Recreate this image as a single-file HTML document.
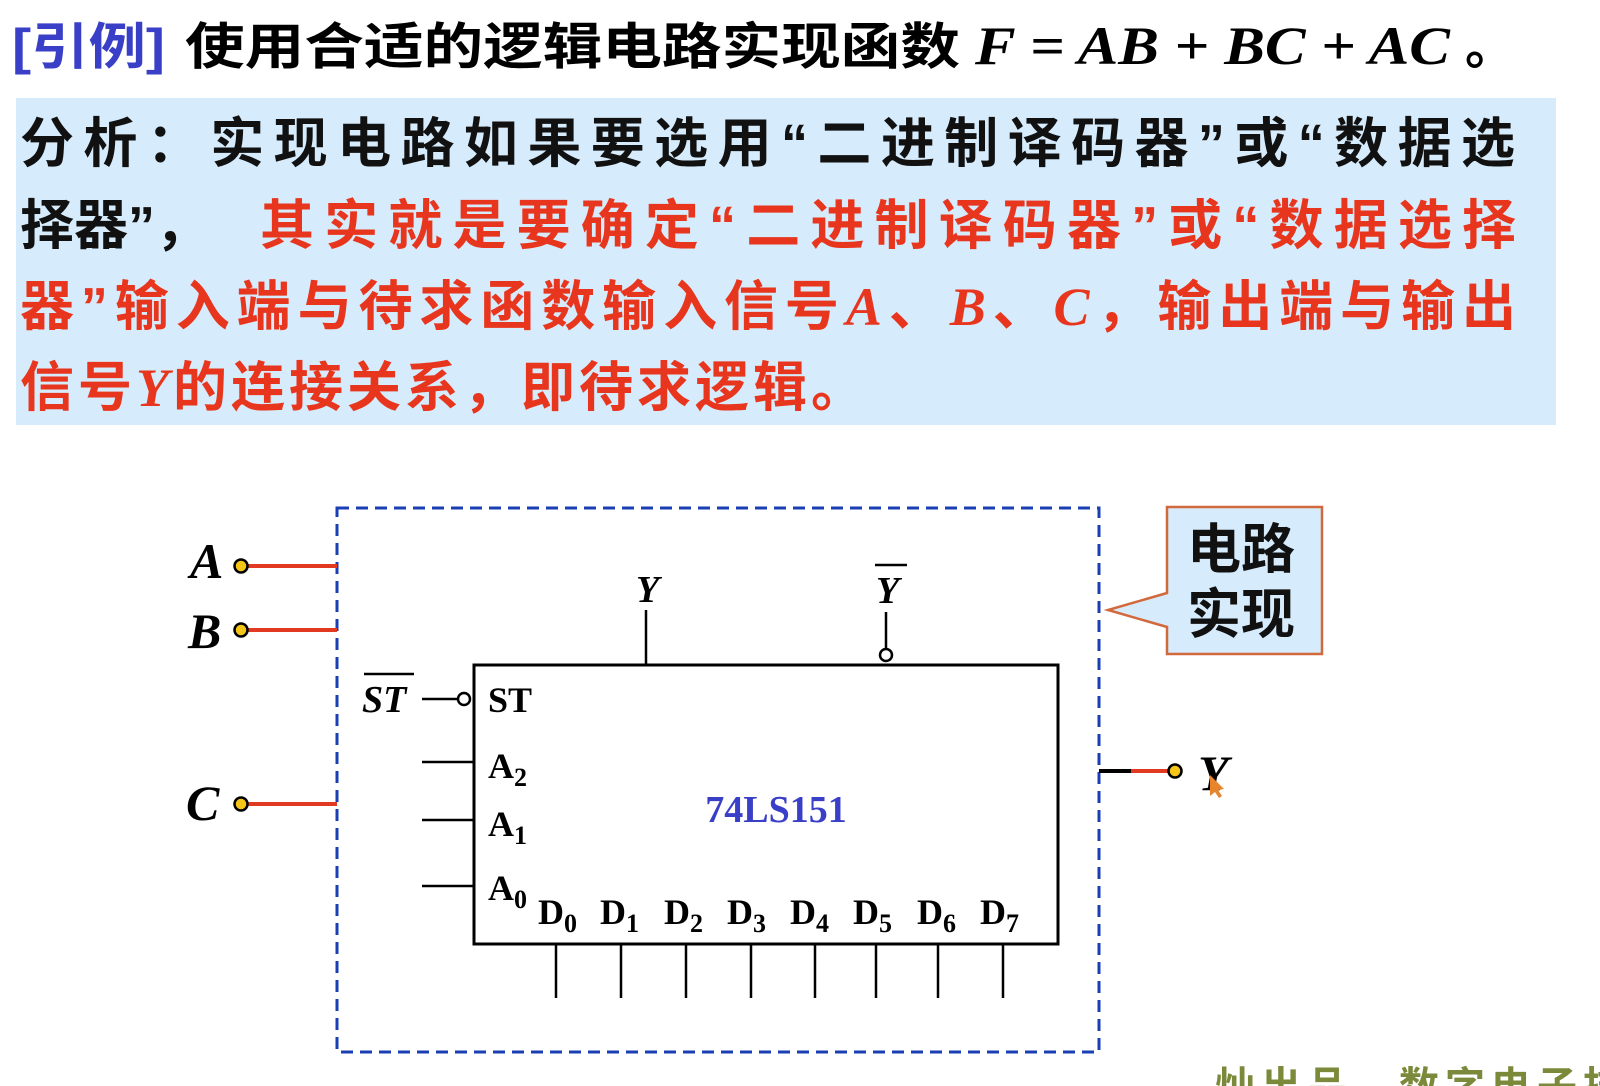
<!DOCTYPE html>
<html><head><meta charset="utf-8"><style>
html,body{margin:0;padding:0;background:#fff;width:1600px;height:1086px;overflow:hidden}
svg{display:block}
.cj{font-family:"Liberation Sans","Noto Sans CJK SC",sans-serif;font-weight:bold}
.sr{font-family:"Liberation Serif","Noto Serif CJK SC",serif;font-weight:bold}
</style></head><body>
<svg width="1600" height="1086" viewBox="0 0 1600 1086" xmlns="http://www.w3.org/2000/svg">
<text x="12" y="64" class="cj" font-size="50" fill="#3a3fc8" textLength="153" lengthAdjust="spacingAndGlyphs">[引例]</text>
<text x="185" y="64" class="cj" font-size="50" fill="#000" textLength="775" lengthAdjust="spacingAndGlyphs">使用合适的逻辑电路实现函数</text>
<text x="975" y="64" class="sr" font-size="54" font-style="italic" fill="#000" textLength="475" lengthAdjust="spacingAndGlyphs">F = AB + BC + AC</text>
<text x="1465" y="64" class="cj" font-size="50" fill="#000">。</text>

<rect x="16" y="98" width="1540" height="327" fill="#d6ebfb"/>
<text x="20" y="162" class="cj" font-size="54" fill="#111" textLength="1495" lengthAdjust="spacing">分析：实现电路如果要选用“二进制译码器”或“数据选</text>
<text x="20" y="244" class="cj" font-size="54" fill="#111">择器”，<tspan fill="#e8361e" x="260" textLength="1256" lengthAdjust="spacing">其实就是要确定“二进制译码器”或“数据选择</tspan></text>
<text x="20" y="325" class="cj" font-size="54" fill="#e8361e" textLength="1496" lengthAdjust="spacing">器”输入端与待求函数输入信号<tspan font-family="Liberation Serif" font-style="italic">A</tspan>、<tspan font-family="Liberation Serif" font-style="italic">B</tspan>、<tspan font-family="Liberation Serif" font-style="italic">C</tspan>，输出端与输出</text>
<text x="20" y="406" class="cj" font-size="54" fill="#e8361e" textLength="845" lengthAdjust="spacing">信号<tspan font-family="Liberation Serif" font-style="italic">Y</tspan>的连接关系，即待求逻辑。</text>

<rect x="337" y="508" width="762" height="544" fill="none" stroke="#1a3fb5" stroke-width="3" stroke-dasharray="12,7"/>

<path d="M1167 507 H1322 V654 H1167 V627 L1108 610 L1167 593 Z" fill="#d6ebfb" stroke="#d2693c" stroke-width="2.5"/>
<text x="1187" y="568" class="cj" font-size="54" fill="#111">电路</text>
<text x="1187" y="633" class="cj" font-size="54" fill="#111">实现</text>

<g class="sr" font-style="italic" font-size="50" fill="#000">
<text x="190" y="578">A</text><text x="188" y="648">B</text><text x="186" y="820">C</text>
<text x="1198" y="790">Y</text>
</g>
<g stroke="#e23a22" stroke-width="4">
<line x1="248" y1="566" x2="337" y2="566"/><line x1="248" y1="630" x2="337" y2="630"/><line x1="248" y1="804" x2="337" y2="804"/>
<line x1="1130" y1="771" x2="1168" y2="771"/>
</g>
<line x1="1099" y1="771" x2="1131" y2="771" stroke="#000" stroke-width="4"/>
<g fill="#f5c518" stroke="#000" stroke-width="2.5">
<circle cx="241" cy="566" r="6.5"/><circle cx="241" cy="630" r="6.5"/><circle cx="241" cy="804" r="6.5"/><circle cx="1175" cy="771" r="6.5"/>
</g>
<path d="M1210 775 l14 14 l-6 1 l4 6 l-3 2 l-4 -6 l-5 4 z" fill="#e8842a"/>

<rect x="474" y="665" width="584" height="279" fill="#fff" stroke="#000" stroke-width="3"/>
<g stroke="#000" stroke-width="2.5" fill="none">
<line x1="646" y1="610" x2="646" y2="665"/>
<line x1="886" y1="612" x2="886" y2="649"/>
<circle cx="886" cy="655" r="6" fill="#fff"/>
<line x1="422" y1="699" x2="458" y2="699"/>
<circle cx="464" cy="699" r="6" fill="#fff"/>
<line x1="422" y1="762" x2="474" y2="762"/>
<line x1="422" y1="820" x2="474" y2="820"/>
<line x1="422" y1="886" x2="474" y2="886"/>
<line x1="556" y1="944" x2="556" y2="998"/><line x1="621" y1="944" x2="621" y2="998"/>
<line x1="686" y1="944" x2="686" y2="998"/><line x1="751" y1="944" x2="751" y2="998"/>
<line x1="815" y1="944" x2="815" y2="998"/><line x1="876" y1="944" x2="876" y2="998"/>
<line x1="938" y1="944" x2="938" y2="998"/><line x1="1003" y1="944" x2="1003" y2="998"/>
<line x1="364" y1="674" x2="414" y2="674"/>
<line x1="875" y1="565" x2="907" y2="565"/>
</g>
<g class="sr" font-style="italic" font-size="38" fill="#000">
<text x="636" y="602">Y</text><text x="876" y="603">Y</text><text x="362" y="712">ST</text>
</g>
<g class="sr" font-size="36" fill="#000">
<text x="488" y="712">ST</text>
<text x="488" y="778">A<tspan font-size="26" dy="8">2</tspan></text>
<text x="488" y="836">A<tspan font-size="26" dy="8">1</tspan></text>
<text x="488" y="900">A<tspan font-size="26" dy="8">0</tspan></text>
<text x="538" y="924">D<tspan font-size="26" dy="8">0</tspan></text>
<text x="600" y="924">D<tspan font-size="26" dy="8">1</tspan></text>
<text x="664" y="924">D<tspan font-size="26" dy="8">2</tspan></text>
<text x="727" y="924">D<tspan font-size="26" dy="8">3</tspan></text>
<text x="790" y="924">D<tspan font-size="26" dy="8">4</tspan></text>
<text x="853" y="924">D<tspan font-size="26" dy="8">5</tspan></text>
<text x="917" y="924">D<tspan font-size="26" dy="8">6</tspan></text>
<text x="980" y="924">D<tspan font-size="26" dy="8">7</tspan></text>
<text x="776" y="822" text-anchor="middle" fill="#3a3fc8" font-size="38">74LS151</text>
</g>
<text x="1215" y="1100" class="cj" font-size="40" fill="#7a8a3a" letter-spacing="6">灿出品—数字电子技</text>
</svg>
</body></html>
